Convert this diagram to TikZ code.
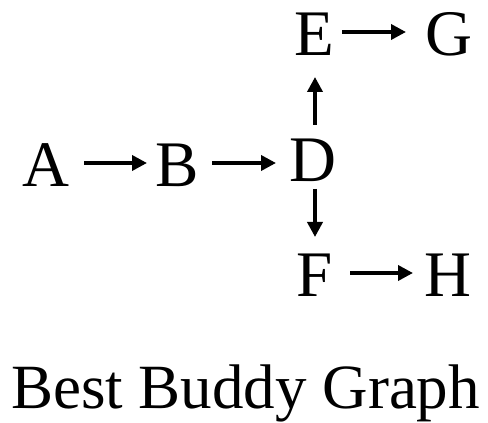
\documentclass[tikz,border=0pt]{standalone}
\usepackage{fontspec}
\setmainfont{Liberation Serif}
\usetikzlibrary{arrows.meta}
\begin{document}
\begin{tikzpicture}[x=1pt,y=1pt,
  lbl/.style={inner sep=0pt,anchor=base,font=\fontsize{65}{65}\selectfont},
  arr/.style={line width=3.6pt,-{Triangle[length=15pt,width=15pt]}}]
\useasboundingbox (0,0) rectangle (488,423);
\node[lbl] (A) at (46,236) {A};
\node[lbl] (B) at (177,236) {B};
\node[lbl] (D) at (313,241) {D};
\node[lbl] (E) at (314,367) {E};
\node[lbl] (G) at (449,367) {G};
\node[lbl] (F) at (315,126) {F};
\node[lbl] (H) at (448,126) {H};
\node[inner sep=0pt,anchor=base,font=\fontsize{63}{63}\selectfont] (T) at (245.5,14) {Best Buddy Graph};
\draw[arr] ([shift={(38,24)}]A.base) -- ([shift={(-30,24)}]B.base);
\draw[arr] ([shift={(35,24)}]B.base) -- ([shift={(-37,19)}]D.base);
\draw[arr] ([shift={(2,57)}]D.base) -- ([shift={(1,-21)}]E.base);
\draw[arr] ([shift={(2,-7)}]D.base) -- ([shift={(0,60)}]F.base);
\draw[arr] ([shift={(28,24)}]E.base) -- ([shift={(-43,24)}]G.base);
\draw[arr] ([shift={(35,24)}]F.base) -- ([shift={(-35,24)}]H.base);
\end{tikzpicture}
\end{document}
